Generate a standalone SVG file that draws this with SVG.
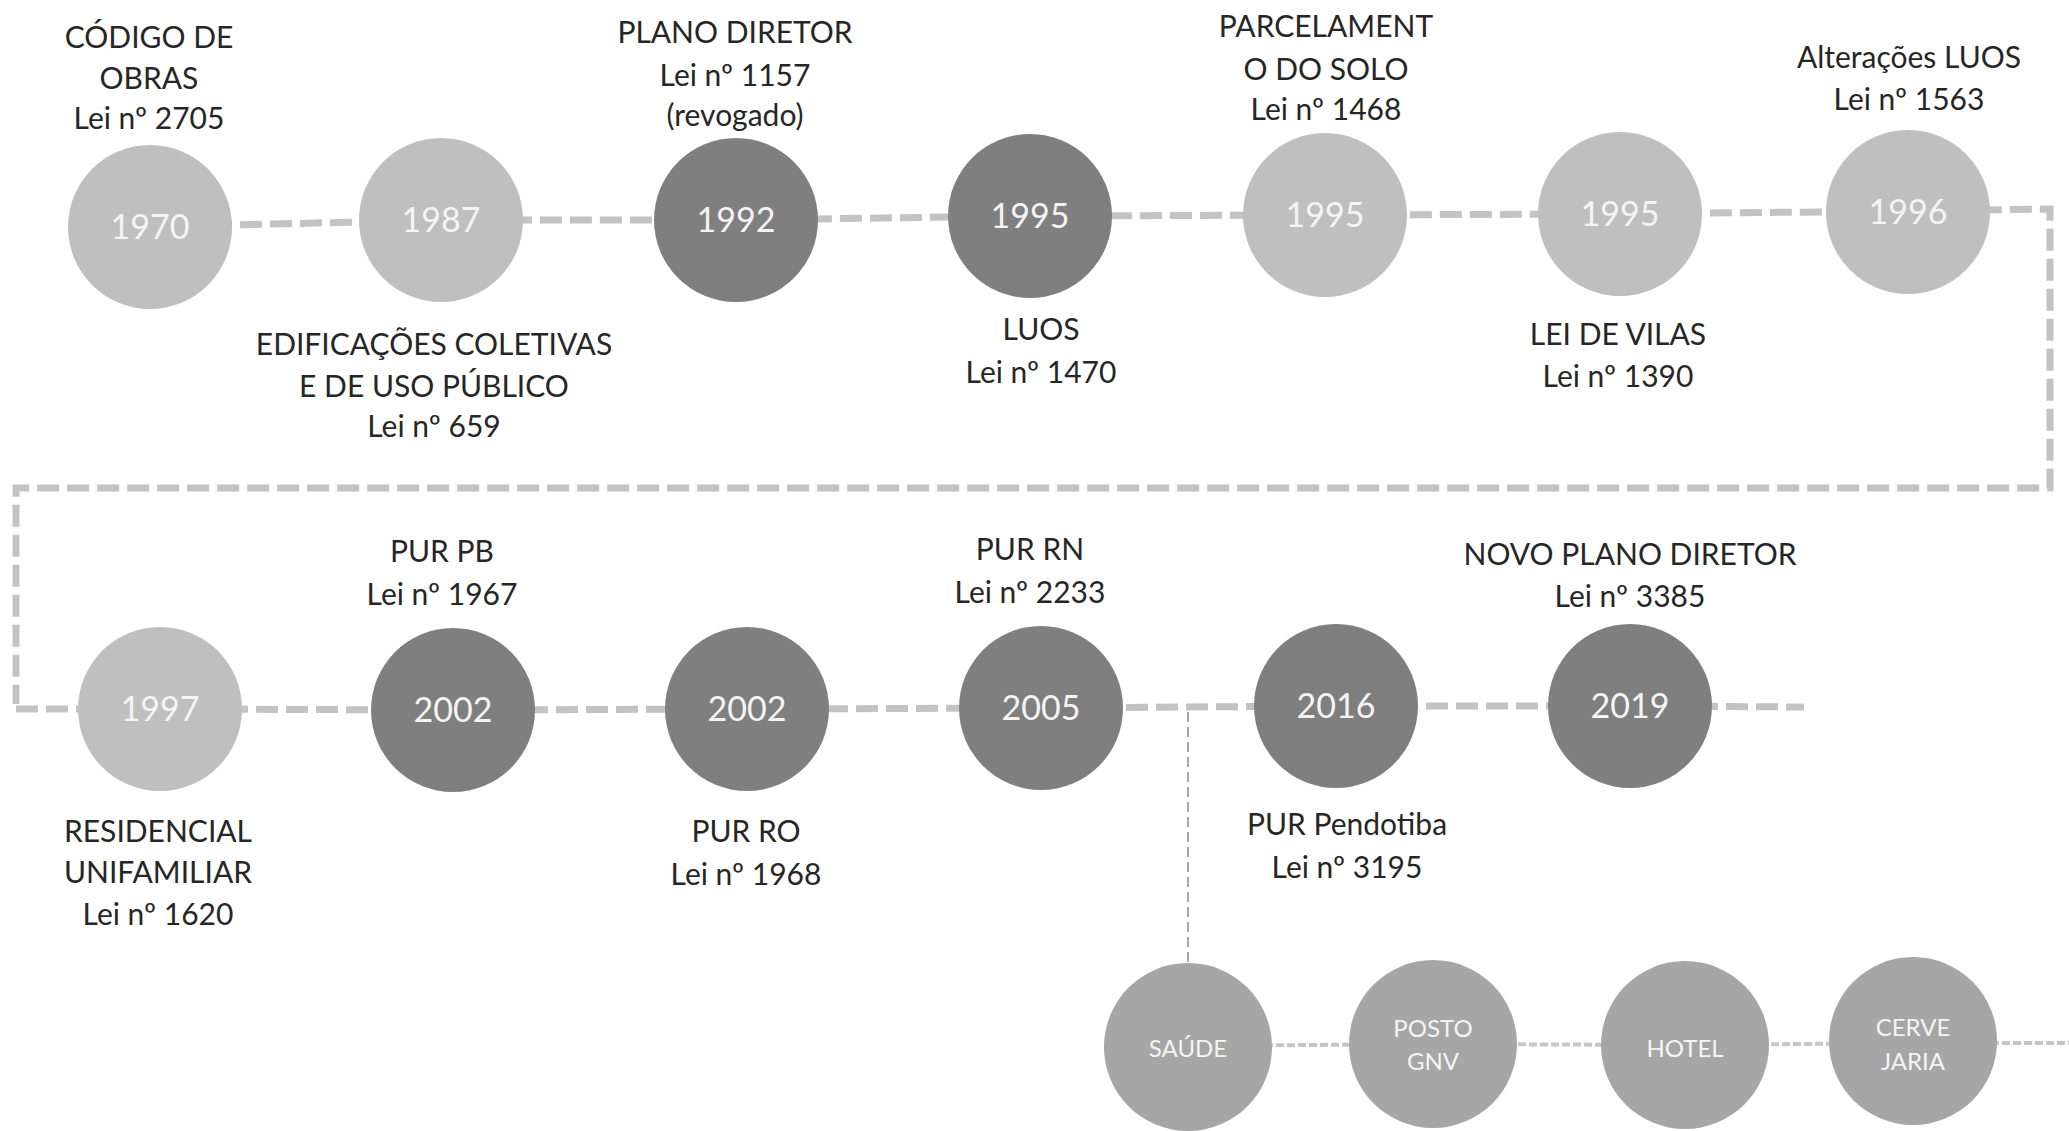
<svg xmlns="http://www.w3.org/2000/svg" width="2069" height="1131" viewBox="0 0 2069 1131">
<style>
.bg{fill:#ffffff}
.light{fill:#bfbfbf}
.dark{fill:#7f7f7f}
.mid{fill:#a6a6a6}
.yr{font-family:Lato,"Open Sans","Liberation Sans",sans-serif;font-size:34px;fill:#f4f4f4;text-anchor:middle}
.sm{font-family:Lato,"Open Sans","Liberation Sans",sans-serif;font-size:24px;fill:#f4f4f4;text-anchor:middle}
.lb{font-family:Lato,"Open Sans","Liberation Sans",sans-serif;font-size:30px;fill:#262626;text-anchor:middle}
.thick{fill:none;stroke:#c3c3c3;stroke-width:7;stroke-dasharray:22 8}
.thin{fill:none;stroke:#a8a8a8;stroke-width:2;stroke-dasharray:10 5}
.thinh{fill:none;stroke:#c6c6c6;stroke-width:4;stroke-dasharray:8 3}
</style>
<rect class="bg" x="0" y="0" width="2069" height="1131"/>
<g id="connectors">
<polyline class="thick" points="150,227 441,220 735,220 1030,216 1325,215 1620,214 1908,211 2050,209 2050,488 16,488 16,704"/>
<polyline class="thick" points="16,709 160,709 453,710 747,709 1041,708 1336,706 1630,706 1804,707"/>
<line class="thin" x1="1188" y1="712" x2="1188" y2="965"/>
<polyline class="thinh" points="1188,1046 1433,1044 1685,1045 1913,1043 2069,1043"/>
</g>
<g id="n1970"><circle class="light" cx="150" cy="227" r="82"/><text class="yr" x="150" y="239">1970</text>
<text class="lb" x="149" y="48">CÓDIGO DE</text><text class="lb" x="149" y="89">OBRAS</text><text class="lb" x="149" y="129">Lei nº 2705</text></g>
<g id="n1987"><circle class="light" cx="441" cy="220" r="82"/><text class="yr" x="441" y="232">1987</text>
<text class="lb" x="434" y="355">EDIFICAÇÕES COLETIVAS</text><text class="lb" x="434" y="397">E DE USO PÚBLICO</text><text class="lb" x="434" y="437">Lei nº 659</text></g>
<g id="n1992"><circle class="dark" cx="736" cy="220" r="82"/><text class="yr" x="736" y="232">1992</text>
<text class="lb" x="735" y="43">PLANO DIRETOR</text><text class="lb" x="735" y="86">Lei nº 1157</text><text class="lb" x="735" y="126">(revogado)</text></g>
<g id="n1995a"><circle class="dark" cx="1030" cy="216" r="82"/><text class="yr" x="1030" y="228">1995</text>
<text class="lb" x="1041" y="340">LUOS</text><text class="lb" x="1041" y="383">Lei nº 1470</text></g>
<g id="n1995b"><circle class="light" cx="1325" cy="215" r="82"/><text class="yr" x="1325" y="227">1995</text>
<text class="lb" x="1326" y="37">PARCELAMENT</text><text class="lb" x="1326" y="80">O DO SOLO</text><text class="lb" x="1326" y="120">Lei nº 1468</text></g>
<g id="n1995c"><circle class="light" cx="1620" cy="214" r="82"/><text class="yr" x="1620" y="226">1995</text>
<text class="lb" x="1618" y="345">LEI DE VILAS</text><text class="lb" x="1618" y="387">Lei nº 1390</text></g>
<g id="n1996"><circle class="light" cx="1908" cy="212" r="82"/><text class="yr" x="1908" y="224">1996</text>
<text class="lb" x="1909" y="68">Alterações LUOS</text><text class="lb" x="1909" y="110">Lei nº 1563</text></g>
<g id="n1997"><circle class="light" cx="160" cy="709" r="82"/><text class="yr" x="160" y="721">1997</text>
<text class="lb" x="158" y="842">RESIDENCIAL</text><text class="lb" x="158" y="883">UNIFAMILIAR</text><text class="lb" x="158" y="925">Lei nº 1620</text></g>
<g id="n2002a"><circle class="dark" cx="453" cy="710" r="82"/><text class="yr" x="453" y="722">2002</text>
<text class="lb" x="442" y="562">PUR PB</text><text class="lb" x="442" y="605">Lei nº 1967</text></g>
<g id="n2002b"><circle class="dark" cx="747" cy="709" r="82"/><text class="yr" x="747" y="721">2002</text>
<text class="lb" x="746" y="842">PUR RO</text><text class="lb" x="746" y="885">Lei nº 1968</text></g>
<g id="n2005"><circle class="dark" cx="1041" cy="708" r="82"/><text class="yr" x="1041" y="720">2005</text>
<text class="lb" x="1030" y="560">PUR RN</text><text class="lb" x="1030" y="603">Lei nº 2233</text></g>
<g id="n2016"><circle class="dark" cx="1336" cy="706" r="82"/><text class="yr" x="1336" y="718">2016</text>
<text class="lb" x="1347" y="835">PUR Pendotiba</text><text class="lb" x="1347" y="878">Lei nº 3195</text></g>
<g id="n2019"><circle class="dark" cx="1630" cy="706" r="82"/><text class="yr" x="1630" y="718">2019</text>
<text class="lb" x="1630" y="565">NOVO PLANO DIRETOR</text><text class="lb" x="1630" y="607">Lei nº 3385</text></g>
<g id="nSaude"><circle class="mid" cx="1188" cy="1047" r="84"/><text class="sm" x="1188" y="1057">SAÚDE</text></g>
<g id="nPosto"><circle class="mid" cx="1433" cy="1044" r="84"/><text class="sm" x="1433" y="1037">POSTO</text><text class="sm" x="1433" y="1070">GNV</text></g>
<g id="nHotel"><circle class="mid" cx="1685" cy="1045" r="84"/><text class="sm" x="1685" y="1057">HOTEL</text></g>
<g id="nCerve"><circle class="mid" cx="1913" cy="1041" r="84"/><text class="sm" x="1913" y="1036">CERVE</text><text class="sm" x="1913" y="1070">JARIA</text></g>
</svg>
